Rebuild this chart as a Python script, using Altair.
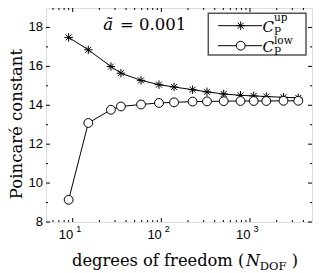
import altair as alt
import pandas as pd

# ---- data ----
dof = [9, 15, 27, 35, 59, 94, 139, 225, 327, 505, 781, 1100, 1526, 2385, 3503]
c_up = [17.49, 16.85, 15.99, 15.65, 15.28, 15.06, 14.94, 14.80, 14.69, 14.58,
        14.51, 14.48, 14.45, 14.41, 14.38]
c_low = [9.14, 13.09, 13.77, 13.94, 14.04, 14.12, 14.15, 14.19, 14.20, 14.21,
         14.22, 14.22, 14.22, 14.23, 14.23]
y_major = [8, 10, 12, 14, 16, 18]
y_minor = [9, 11, 13, 15, 17]
x_major = [10, 100, 1000]
x_exp = ["1", "2", "3"]
x_minor = [6, 7, 8, 9, 20, 30, 40, 50, 60, 70, 80, 90,
           200, 300, 400, 500, 600, 700, 800, 900, 2000, 3000, 4000]

W, H = 266, 214
ASTER = "M-1,0L1,0M0,-1L0,1M-0.7,-0.7L0.7,0.7M-0.7,0.7L0.7,-0.7"
SERIF = "DejaVu Serif"
SANS = "Liberation Sans"

df_up = pd.DataFrame({"x": dof, "y": c_up, "s": "up"})
df_low = pd.DataFrame({"x": dof, "y": c_low, "s": "low"})
df_all = pd.concat([df_up, df_low])

xs = alt.Scale(type="log", domain=[5, 5000], nice=False)
ys = alt.Scale(domain=[8, 19], nice=False)
X = alt.X("x:Q", scale=xs, axis=None)
Y = alt.Y("y:Q", scale=ys, axis=None)

one = pd.DataFrame({"a": [0]})


def txt(t, x, y, size, font=SERIF, style="normal", align="left", baseline="alphabetic", angle=0):
    return alt.Chart(one).mark_text(text=t, font=font, fontSize=size, fontStyle=style,
                                    align=align, baseline=baseline, angle=angle,
                                    color="black").encode(x=alt.value(x), y=alt.value(y))


# ticks (inward, all four sides)
ymaj = pd.DataFrame({"y": y_major})
ymin = pd.DataFrame({"y": y_minor})
xmaj = pd.DataFrame({"x": x_major})
xmin = pd.DataFrame({"x": x_minor})
tick_layers = []
for d, ln in ((ymaj, 4), (ymin, 2)):
    tick_layers.append(alt.Chart(d).mark_rule(color="black", strokeWidth=1).encode(
        y=Y, x=alt.value(0), x2=alt.value(ln)))
    tick_layers.append(alt.Chart(d).mark_rule(color="black", strokeWidth=1).encode(
        y=Y, x=alt.value(W - ln), x2=alt.value(W)))
for d, ln in ((xmaj, 4), (xmin, 2)):
    tick_layers.append(alt.Chart(d).mark_rule(color="black", strokeWidth=1).encode(
        x=X, y=alt.value(H - ln), y2=alt.value(H)))
    tick_layers.append(alt.Chart(d).mark_rule(color="black", strokeWidth=1).encode(
        x=X, y=alt.value(0), y2=alt.value(ln)))

lines = alt.Chart(df_all).mark_line(color="black", strokeWidth=1).encode(
    x=X, y=Y, detail="s:N")
pts_up = alt.Chart(df_up).mark_point(shape=ASTER, size=72, filled=False, stroke="black",
                                      strokeWidth=1, opacity=1).encode(x=X, y=Y)
pts_low = alt.Chart(df_low).mark_point(shape="circle", size=78, filled=True, fill="white",
                                        stroke="black", strokeWidth=1, opacity=1).encode(x=X, y=Y)

# y tick labels
ylab = pd.DataFrame({"y": y_major, "t": [str(v) for v in y_major]})
yl = alt.Chart(ylab).mark_text(font=SANS, fontSize=13, align="right", baseline="middle",
                               color="black").encode(y=Y, x=alt.value(-3), text="t:N")

# x tick labels 10^k
lab = pd.DataFrame({"x": x_major, "e": x_exp, "b": ["10"] * 3})
xl_base = alt.Chart(lab).mark_text(font=SANS, fontSize=13, align="right", baseline="alphabetic",
                                   dx=0.5, color="black").encode(
    x=X, y=alt.value(231), text="b:N")
xl_exp = alt.Chart(lab).mark_text(font=SANS, fontSize=9, align="left", baseline="alphabetic",
                                  dx=3.5, color="black").encode(
    x=X, y=alt.value(223.5), text="e:N")

# legend box
box = alt.Chart(one).mark_rect(fill="white", stroke="#555555", strokeWidth=1.5).encode(
    x=alt.value(162.3), x2=alt.value(260), y=alt.value(5.3), y2=alt.value(47))
leg = [box]
for yy in (17.7, 37.7):
    leg.append(alt.Chart(one).mark_rule(color="black", strokeWidth=1).encode(
        x=alt.value(172), x2=alt.value(216), y=alt.value(yy)))
leg.append(alt.Chart(one).mark_point(shape=ASTER, size=72, filled=False, stroke="black",
                                     strokeWidth=1, opacity=1).encode(
    x=alt.value(194.7), y=alt.value(17.7)))
leg.append(alt.Chart(one).mark_point(shape="circle", size=78, filled=True, fill="white",
                                     stroke="black", strokeWidth=1, opacity=1).encode(
    x=alt.value(194.7), y=alt.value(37.7)))
leg += [
    txt("C", 216.5, 23.5, 15, style="italic"),
    txt("up", 228, 13, 10.5),
    txt("P", 228, 27, 10.5),
    txt("C", 216.5, 43.5, 15, style="italic"),
    txt("low", 228, 35.5, 10.5),
    txt("P", 228, 47, 10.5),
]

annot = [
    txt("ã", 57.3, 22, 16.5, style="italic"),
    txt("= 0.001", 74, 22, 16.5),
]

titles = [
    txt("degrees of freedom (", 26, 258, 16.3),
    txt("N", 200, 258, 16, style="italic"),
    txt("DOF", 213.8, 262, 11.5),
    txt(")", 245.7, 258, 16),
    txt("Poincaré constant", -24, 116, 16.5, align="center", angle=270),
]

chart = alt.layer(
    *tick_layers, lines, pts_up, pts_low, yl, xl_base, xl_exp, *leg, *annot, *titles
).properties(
    width=W, height=H,
    autosize=alt.AutoSizeParams(type="none"),
    padding={"left": 38, "top": 0, "right": 4, "bottom": 51},
).configure_view(stroke="black", strokeWidth=1).configure(background="white")

chart.save("out.html", embed_options={"renderer": "svg", "actions": False})
